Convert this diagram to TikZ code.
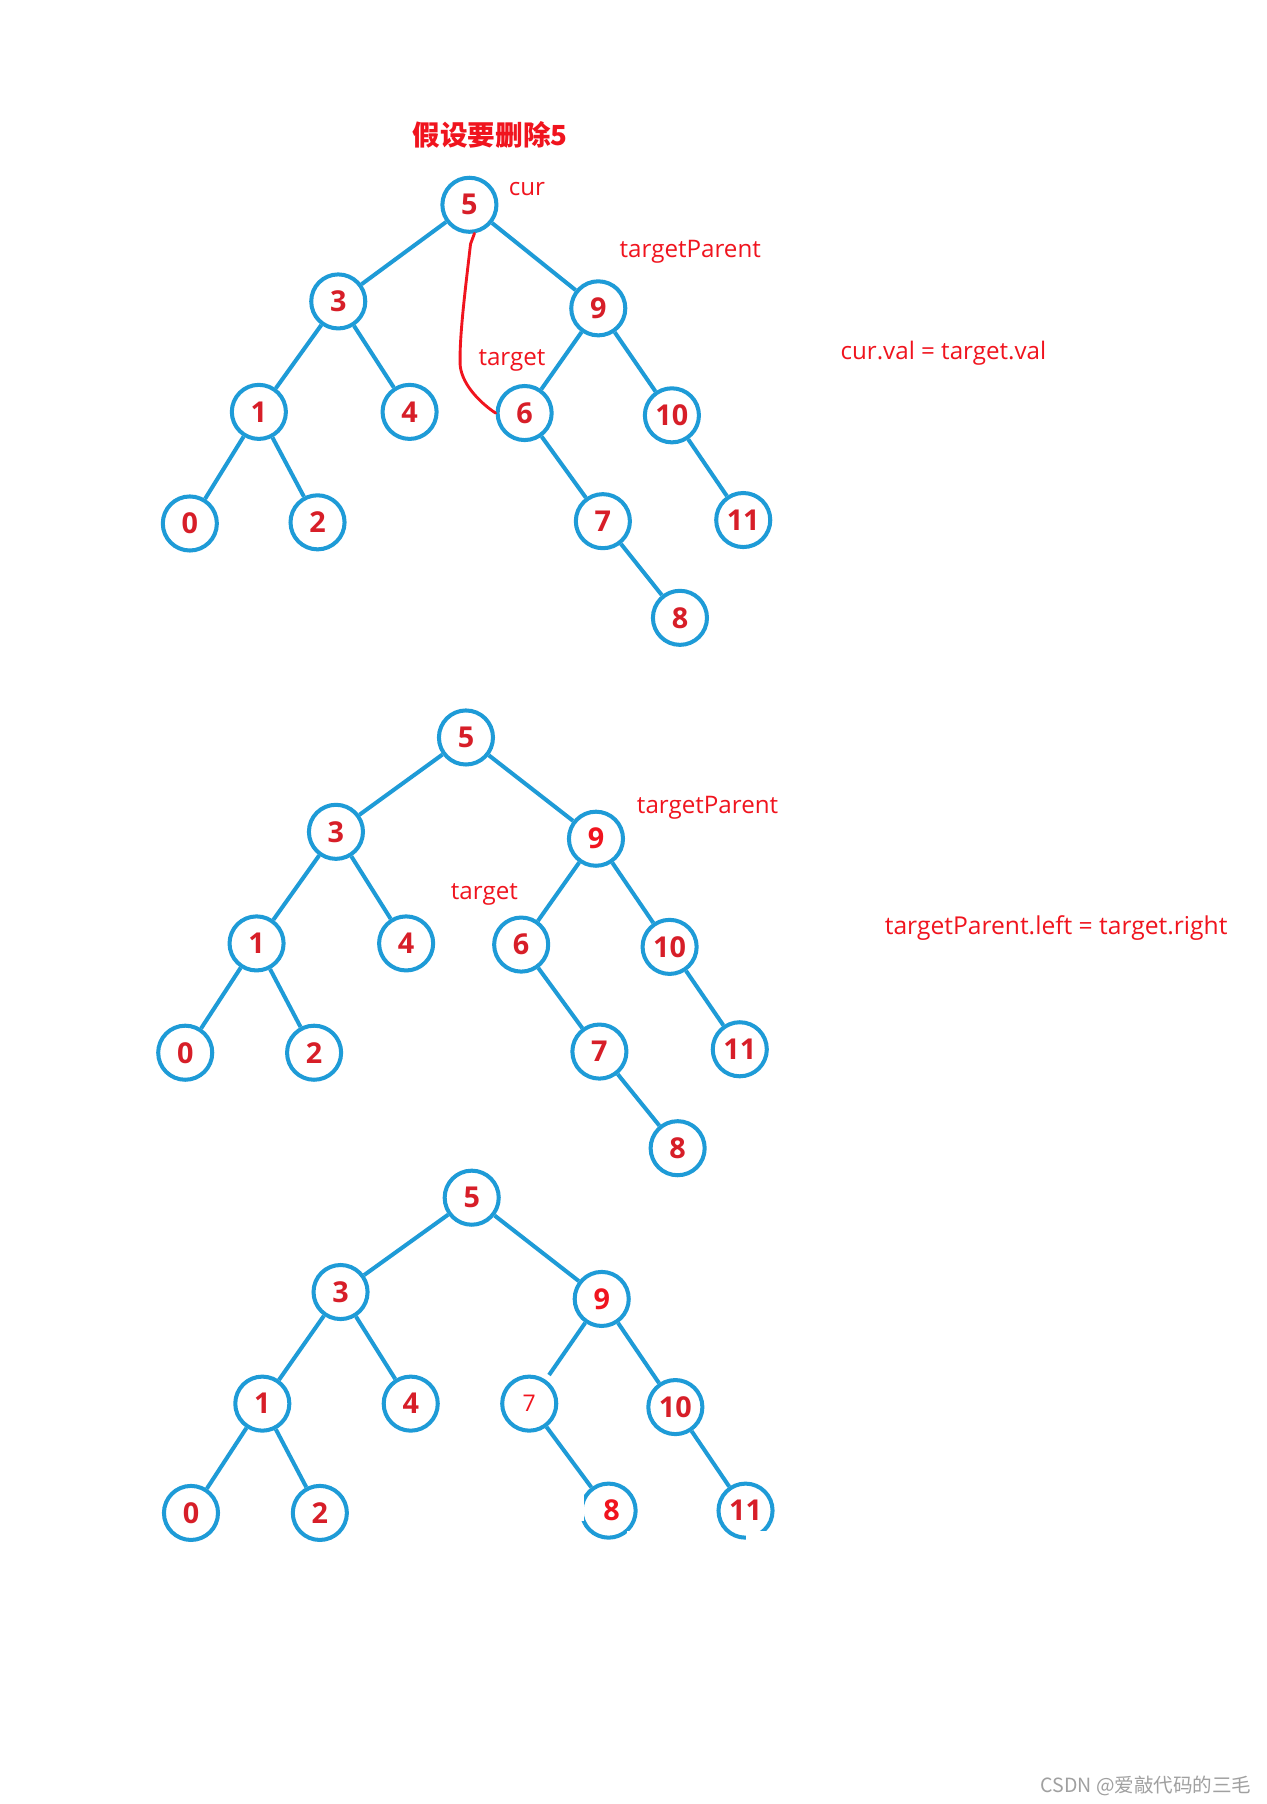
\documentclass[tikz,border=0pt]{standalone}
\usepackage{fontspec}
\setmainfont{Open Sans}
\newfontfamily\cjk{Noto Sans CJK SC}
\definecolor{nblue}{RGB}{30,155,215}
\definecolor{dred}{RGB}{215,30,40}
\definecolor{ared}{RGB}{240,20,30}
\definecolor{wgray}{RGB}{160,160,160}
\begin{document}
\begin{tikzpicture}[x=1pt,y=-1pt,
  nd/.style={circle, draw=nblue, line width=3.5pt, minimum size=47pt, inner sep=0pt, text=dred,
    font=\fontsize{25}{25}\selectfont\bfseries},
  ed/.style={draw=nblue, line width=3.5pt},
  ann/.style={text=ared, font=\fontsize{21}{21}\selectfont, inner sep=0pt},
  ttl/.style={text=ared, font=\fontsize{24}{24}\selectfont\cjk\bfseries, inner sep=0pt},
  wm/.style={text=wgray, font=\fontsize{17}{17}\selectfont\cjk, inner sep=0pt},
  rcurve/.style={draw=ared, line width=2.5pt, line cap=round, line join=round},
  patch/.style={fill=white, draw=none},
]
\useasboundingbox (0,0) rectangle (1101,1568);
\fill[white] (0,0) rectangle (1101,1568);

% ---------- tree 1 ----------
\node[ttl] (title) at (426,117) {假设要删除5};
\node[nd] (a5) at (408,178) {5};
\node[nd] (a3) at (294,262) {3};
\node[nd] (a9) at (520,268) {9};
\node[nd] (a1) at (225,358) {1};
\node[nd] (a4) at (356,358) {4};
\node[nd] (a6) at (456,359) {6};
\node[nd] (a10) at (584,361) {10};
\node[nd] (a0) at (165,455) {0};
\node[nd] (a2) at (276,454) {2};
\node[nd] (a7) at (524,453) {7};
\node[nd] (a11) at (646,452) {11};
\node[nd] (a8) at (591,537) {8};
\foreach \p/\c in {a5/a3,a5/a9,a3/a1,a3/a4,a9/a6,a9/a10,a1/a0,a1/a2,a6/a7,a10/a11,a7/a8}
  \draw[ed] (\p) -- (\c);
\node[ann] (cur) at (458,164) {cur};
\node[ann] (tp1) at (600,219) {targetParent};
\node[ann] (tg1) at (445,313) {target};
\node[ann] (eq1) at (820,307) {cur.val = target.val};
\draw[rcurve] (a5.-80) -- (409,212) .. controls (404,255) and (399,295) .. (400,318)
  .. controls (402,336) and (420,352) .. (a6.west);

% ---------- tree 2 ----------
\node[nd] (b5) at (405,641) {5};
\node[nd] (b3) at (292,723) {3};
\node[nd, text=ared] (b9) at (518,729) {9};
\node[nd] (b1) at (223,820) {1};
\node[nd] (b4) at (353,820) {4};
\node[nd] (b6) at (453,821) {6};
\node[nd] (b10) at (582,823) {10};
\node[nd] (b0) at (161,915) {0};
\node[nd] (b2) at (273,915) {2};
\node[nd] (b7) at (521,914) {7};
\node[nd] (b11) at (643,912) {11};
\node[nd] (b8) at (589,998) {8};
\foreach \p/\c in {b5/b3,b5/b9,b3/b1,b3/b4,b9/b6,b9/b10,b1/b0,b1/b2,b6/b7,b10/b11,b7/b8}
  \draw[ed] (\p) -- (\c);
\node[ann] (tp2) at (615,702) {targetParent};
\node[ann] (tg2) at (421,777) {target};
\node[ann, font=\fontsize{21.4}{21.4}\selectfont] (eq2) at (918,807) {targetParent.left = target.right};

% ---------- tree 3 ----------
\node[nd] (c5) at (410,1041) {5};
\node[nd] (c3) at (296,1123) {3};
\node[nd, text=ared] (c9) at (523,1129) {9};
\node[nd] (c1) at (228,1220) {1};
\node[nd] (c4) at (357,1220) {4};
\node[nd, text=ared, font=\fontsize{20}{20}\selectfont] (c7) at (460,1220) {7};
\node[nd] (c10) at (587,1223) {10};
\node[nd] (c0) at (166,1315) {0};
\node[nd] (c2) at (278,1315) {2};
\node[nd, text=ared] (c8) at (529,1313) {\hspace{5pt}8};
\node[nd] (c11) at (648,1313) {11};
\foreach \p/\c in {c5/c3,c5/c9,c3/c1,c3/c4,c9/c10,c1/c0,c1/c2,c7/c8,c10/c11}
  \draw[ed] (\p) -- (\c);
\draw[ed, shorten >=5pt] (c9) -- (c7);
% white gaps in the scanned circles
\fill[patch] (501,1294) rectangle (508,1322);
\fill[patch] (545,1331) rectangle (560,1345);
\fill[patch] (648,1331) rectangle (680,1345);

\node[wm] (wmark) at (996,1552) {CSDN @爱敲代码的三毛};
\end{tikzpicture}
\end{document}
